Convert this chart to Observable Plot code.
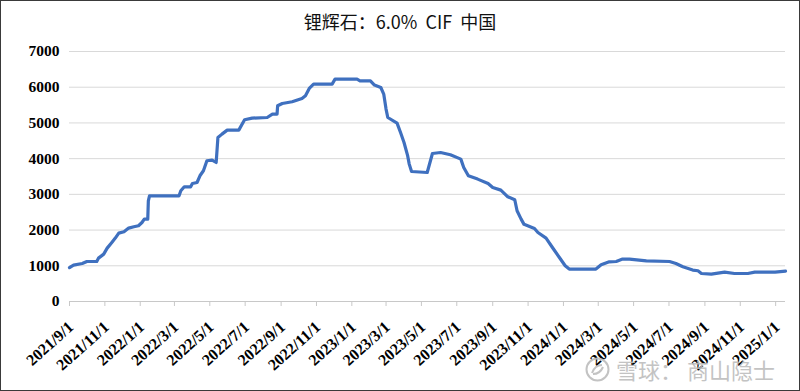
<!DOCTYPE html>
<html><head><meta charset="utf-8">
<script src="https://cdn.jsdelivr.net/npm/d3@7"></script>
<script src="https://cdn.jsdelivr.net/npm/@observablehq/plot@0.6"></script>
<style>
body{margin:0;background:#fff;}
#frame{position:relative;width:800px;height:391px;box-sizing:border-box;border:1px solid #3a3a3a;background:#fff;overflow:hidden;}
#title{height:39px;line-height:40px;text-align:center;font-family:"Noto Sans CJK SC","Liberation Serif",sans-serif;font-size:18px;white-space:pre;color:#111;}
#chart svg{display:block;}
#wm{position:absolute;left:584px;top:355px;height:26px;display:flex;align-items:center;font-family:"Noto Sans CJK SC",sans-serif;font-size:22px;color:#bdbdbd;opacity:0.9;white-space:pre;}
#wm svg{margin-right:6px;}
</style></head><body>
<div id="frame">
<div id="title">锂辉石：6.0%  CIF  中国</div>
<div id="chart"></div>
<div id="wm"><svg width="25" height="25" viewBox="0 0 25 25"><circle cx="12.5" cy="12.5" r="11" fill="none" stroke="#bdbdbd" stroke-width="2"/><path d="M7 16 Q10 8 17 8 M8 17 Q15 17 18 10" fill="none" stroke="#bdbdbd" stroke-width="2"/></svg><span>雪球： 商山隐士</span></div>
</div>
<script>
const dates = [
"2021-09-01","2021-09-08","2021-09-23","2021-10-01","2021-10-18","2021-10-21","2021-10-30","2021-11-05","2021-11-13","2021-11-19",
"2021-11-25","2021-12-04","2021-12-12","2021-12-21","2021-12-29","2022-01-04","2022-01-08","2022-01-14","2022-01-15","2022-01-17",
"2022-03-09","2022-03-12","2022-03-18","2022-03-29","2022-04-01","2022-04-09","2022-04-14","2022-04-20","2022-04-26","2022-05-05",
"2022-05-12","2022-05-15","2022-05-22","2022-05-31","2022-06-20","2022-06-30","2022-07-13","2022-08-08","2022-08-17","2022-08-25",
"2022-08-26","2022-09-03","2022-09-20","2022-10-07","2022-10-13","2022-10-20","2022-10-27","2022-11-28","2022-12-03","2023-01-10",
"2023-01-15","2023-02-02","2023-02-09","2023-02-20","2023-02-25","2023-03-01","2023-03-04","2023-03-20","2023-03-26","2023-04-01",
"2023-04-07","2023-04-10","2023-04-14","2023-05-11","2023-05-20","2023-06-03","2023-06-20","2023-07-08","2023-07-13","2023-07-21",
"2023-08-06","2023-08-24","2023-09-01","2023-09-15","2023-09-27","2023-10-09","2023-10-13","2023-10-20","2023-10-25","2023-11-12",
"2023-11-18","2023-12-02","2023-12-13","2023-12-25","2024-01-04","2024-01-11","2024-02-26","2024-03-06","2024-03-20","2024-04-01",
"2024-04-12","2024-04-24","2024-05-23","2024-07-02","2024-07-13","2024-07-25","2024-08-11","2024-08-20","2024-08-26","2024-09-12",
"2024-10-05","2024-10-22","2024-11-14","2024-11-26","2024-12-31","2025-01-18"
];
const prices = [
950,1019,1064,1120,1120,1215,1327,1495,1652,1775,
1915,1952,2055,2092,2120,2212,2307,2307,2820,2960,
2960,3100,3212,3212,3304,3332,3520,3660,3940,3960,
3892,4592,4687,4799,4799,5088,5135,5152,5247,5247,
5480,5544,5592,5684,5760,5975,6087,6087,6227,6227,
6180,6180,6059,5992,5807,5387,5152,4995,4732,4452,
4100,3847,3640,3612,4144,4172,4108,3987,3752,3520,
3427,3304,3192,3119,2932,2848,2540,2307,2160,2044,
1932,1775,1512,1232,1000,907,907,1028,1112,1120,
1187,1187,1140,1120,1064,972,879,860,784,767,
823,784,784,823,823,851
];
const yTicks = [0,1000,2000,3000,4000,5000,6000,7000];
const xTickLabels = ["2021/9/1","2021/11/1","2022/1/1","2022/3/1","2022/5/1","2022/7/1","2022/9/1","2022/11/1",
"2023/1/1","2023/3/1","2023/5/1","2023/7/1","2023/9/1","2023/11/1","2024/1/1","2024/3/1","2024/5/1",
"2024/7/1","2024/9/1","2024/11/1","2025/1/1"];

const parseLabel = s => { const [y,m,d] = s.split("/").map(Number); return new Date(Date.UTC(y, m-1, d)); };
const data = dates.map((d,i) => ({date: new Date(d + "T00:00:00Z"), value: prices[i]}));
const xTicks = xTickLabels.map(s => ({label: s, date: parseLabel(s)}));

const chart = Plot.plot({
  width: 798, height: 350,
  marginLeft: 68, marginRight: 14, marginTop: 11, marginBottom: 89,
  style: {fontFamily: "'Liberation Serif', serif", fontSize: "15px", color: "#000", background: "#fff", overflow: "visible"},
  x: {type: "utc", domain: [new Date("2021-09-01T00:00:00Z"), new Date("2025-01-18T00:00:00Z")]},
  y: {domain: [0, 7000]},
  marks: [
    Plot.gridY(yTicks, {stroke: "#d9d9d9", strokeOpacity: 1, strokeWidth: 1}),
    Plot.ruleY([0], {stroke: "#c8c8c8", strokeWidth: 1}),
    Plot.axisY(yTicks, {tickSize: 0, tickPadding: 10, tickFormat: d => String(d), label: null, fontWeight: "bold", fontSize: 15.5}),
    Plot.axisX(xTicks.map(t => t.date), {tickSize: 5, stroke: "#c8c8c8", tickFormat: () => "", label: null}),
    Plot.text(xTicks, {x: "date", text: "label", frameAnchor: "bottom", dx: 5, dy: 27, rotate: -42,
      textAnchor: "end", lineAnchor: "bottom", fontWeight: "bold", fontSize: 16, fill: "#000"}),
    Plot.line(data, {x: "date", y: "value", stroke: "#3F70BF", strokeWidth: 3.2, strokeLinejoin: "round"})
  ]
});
document.getElementById("chart").append(chart);
</script>
</body></html>
